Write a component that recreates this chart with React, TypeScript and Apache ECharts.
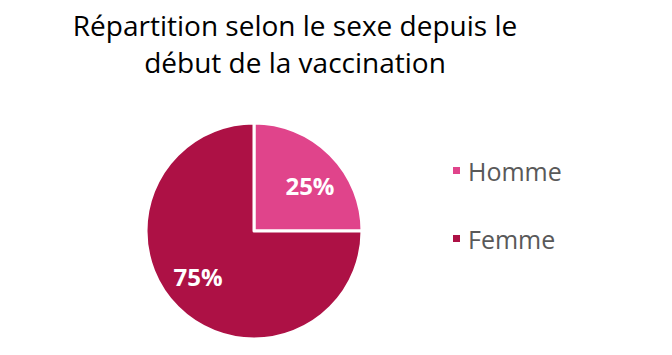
import React, { useEffect, useRef } from "react";
import * as echarts from "echarts";

const titleText = "Répartition selon le sexe depuis le\ndébut de la vaccination";
const categories = ["Homme", "Femme"];
const values = [25, 75];
const colors = ["#E0448B", "#AD1145"];

export default function App() {
  const ref = useRef<HTMLDivElement>(null);
  useEffect(() => {
    document.body.style.margin = "0";
    const chart = echarts.init(ref.current!, null, { renderer: "svg" });
    const data = categories.map((name, i) => ({ name, value: values[i], itemStyle: { color: colors[i] } }));
    chart.setOption({
      animation: false,
      backgroundColor: "#ffffff",
      title: {
        text: titleText,
        left: 290,
        top: 1,
        textAlign: "center",
        textStyle: { fontFamily: "Open Sans", fontSize: 28, fontWeight: "normal", color: "#000000", lineHeight: 37 },
      },
      legend: {
        orient: "vertical",
        left: 446,
        top: 153,
        itemWidth: 9,
        itemHeight: 9,
        itemGap: 43,
        icon: "rect",
        data: categories,
        textStyle: { fontFamily: "Open Sans", fontSize: 25, color: "#595959", padding: [0, 0, 0, 2] },
      },
      series: [
        {
          type: "pie",
          center: [254, 231],
          radius: [0, 108],
          startAngle: 90,
          clockwise: true,
          data,
          label: { show: false },
          labelLine: { show: false },
          itemStyle: { borderColor: "#ffffff", borderWidth: 3 },
          silent: true,
        },
        {
          type: "pie",
          center: [254, 231],
          radius: [30, 108],
          startAngle: 84,
          clockwise: true,
          data: categories.map((name, i) => ({ name, value: values[i], itemStyle: { color: "transparent" } })),
          label: {
            show: true,
            position: "inner",
            formatter: (p: any) => p.value + "%",
            color: "#ffffff",
            fontFamily: "Open Sans",
            fontWeight: "bold",
            fontSize: 24,
          },
          labelLine: { show: false },
          silent: true,
        },
      ],
    });
    return () => chart.dispose();
  }, []);
  return <div ref={ref} style={{ width: 672, height: 355 }} />;
}
